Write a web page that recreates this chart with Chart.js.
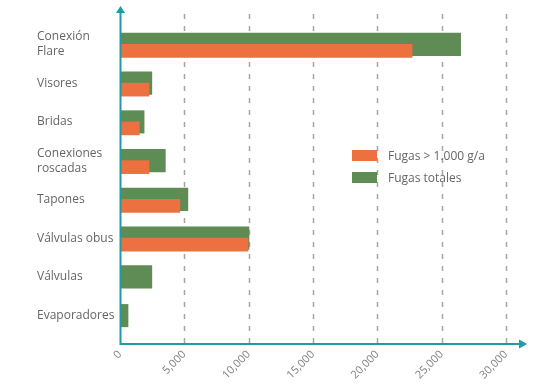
<!DOCTYPE html>
<html>
<head>
<meta charset="utf-8">
<script src="https://cdn.jsdelivr.net/npm/chart.js@4.4.1/dist/chart.umd.min.js"></script>
<style>
  body { margin: 0; background: #fff; }
  #wrap { position: relative; width: 542px; height: 389px; }
  #legend { position: absolute; left: 352px; top: 149px; font: 12px "Open Sans", sans-serif; color: #666; }
  #legend .item { display: flex; align-items: center; height: 13px; margin-bottom: 9px; }
  #legend .box { width: 25px; height: 11px; margin-right: 11px; }
</style>
</head>
<body>
<div id="wrap">
  <canvas id="barChart" width="542" height="389"></canvas>
  <div id="legend"></div>
</div>
<script>
'use strict';

var categories = [
  ['Conexión', 'Flare'],
  'Visores',
  'Bridas',
  ['Conexiones', 'roscadas'],
  'Tapones',
  'Válvulas obus',
  'Válvulas',
  'Evaporadores'
];
var fugasGrandes = [22700, 2250, 1500, 2250, 4650, 9950, null, null];
var fugasTotales = [26500, 2500, 1900, 3550, 5300, 10050, 2500, 650];
var xTicks = [0, 5000, 10000, 15000, 20000, 25000, 30000];

var green = '#5f8b55';
var orange = '#ec7040';
var teal = '#1f9ba3';

// draws dashed grid + arrowed axes like the original
var axesDecor = {
  id: 'axesDecor',
  beforeDatasetsDraw: function (chart) {
    var ctx = chart.ctx, area = chart.chartArea, x = chart.scales.x;
    ctx.save();
    ctx.strokeStyle = '#a4a4a4';
    ctx.lineWidth = 1.5;
    ctx.setLineDash([5, 7]);
    x.ticks.forEach(function (t) {
      if (t.value === 0) return;
      var px = Math.round(x.getPixelForValue(t.value)) + 0.5;
      ctx.beginPath();
      ctx.moveTo(px, area.top - 11);
      ctx.lineTo(px, area.bottom + 9);
      ctx.stroke();
    });
    ctx.restore();
  },
  afterDatasetsDraw: function (chart) {
    var ctx = chart.ctx, area = chart.chartArea;
    var ax = area.left + 0.5, ay = area.bottom + 9;
    ctx.save();
    ctx.strokeStyle = teal;
    ctx.fillStyle = teal;
    ctx.lineWidth = 2;
    ctx.beginPath();
    ctx.moveTo(ax, area.top - 14);
    ctx.lineTo(ax, ay);
    ctx.lineTo(area.right + 14, ay);
    ctx.stroke();
    ctx.beginPath();
    ctx.moveTo(ax, area.top - 19);
    ctx.lineTo(ax - 4.5, area.top - 12);
    ctx.lineTo(ax + 4.5, area.top - 12);
    ctx.closePath();
    ctx.fill();
    ctx.beginPath();
    ctx.moveTo(area.right + 21, ay);
    ctx.lineTo(area.right + 13, ay - 4.5);
    ctx.lineTo(area.right + 13, ay + 4.5);
    ctx.closePath();
    ctx.fill();
    ctx.restore();
  }
};

var ctx = document.getElementById('barChart').getContext('2d');
var chart = new Chart(ctx, {
  type: 'bar',
  data: {
    labels: categories,
    datasets: [{
      // empty slot so the orange bar sits in the lower half
      label: '',
      data: categories.map(function () { return null; }),
      barThickness: 13
    }, {
      label: 'Fugas > 1.000 g/a',
      data: fugasGrandes,
      backgroundColor: orange,
      barThickness: 13
    }, {
      label: 'Fugas totales',
      data: fugasTotales,
      backgroundColor: green,
      grouped: false,
      categoryPercentage: 1,
      barPercentage: 0.595
    }]
  },
  options: {
    indexAxis: 'y',
    responsive: false,
    animation: false,
    layout: { padding: { left: 37, right: 36, top: 25, bottom: 0 } },
    plugins: { legend: { display: false }, tooltip: { enabled: false } },
    scales: {
      x: {
        min: 0,
        max: 30000,
        afterBuildTicks: function (scale) {
          scale.ticks = xTicks.map(function (v) { return { value: v }; });
        },
        afterFit: function (scale) { scale.height = 54; },
        grid: { display: false, drawTicks: false },
        border: { display: false },
        ticks: {
          maxRotation: 45,
          minRotation: 45,
          padding: 13,
          color: '#808080',
          font: { family: 'Open Sans', size: 11 },
          callback: function (v) { return v.toLocaleString('en-US'); }
        }
      },
      y: {
        afterFit: function (scale) { scale.width = 83; },
        grid: { display: false, drawTicks: false },
        border: { display: false },
        ticks: {
          crossAlign: 'far',
          color: '#666',
          font: { family: 'Open Sans', size: 12, lineHeight: 1.25 }
        }
      }
    }
  },
  plugins: [axesDecor]
});

var legend = document.getElementById('legend');
[1, 2].forEach(function (i) {
  var ds = chart.data.datasets[i];
  var item = document.createElement('div');
  item.className = 'item';
  var box = document.createElement('span');
  box.className = 'box';
  box.style.background = ds.backgroundColor;
  var txt = document.createElement('span');
  txt.textContent = ds.label;
  item.appendChild(box);
  item.appendChild(txt);
  legend.appendChild(item);
});
</script>
</body>
</html>
